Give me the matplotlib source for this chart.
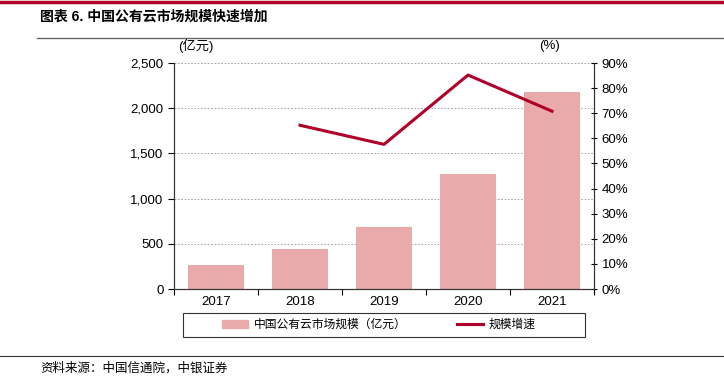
import numpy as np
import matplotlib.pyplot as plt
from matplotlib.lines import Line2D
from matplotlib.patches import Patch, Rectangle

plt.rcParams['font.family'] = ['Liberation Sans', 'Noto Sans CJK SC']

# 数据
years = ['2017', '2018', '2019', '2020', '2021']
market_size = [264.8, 437, 689, 1277, 2181]          # 亿元
growth_years = ['2018', '2019', '2020', '2021']
growth_rate = [65.2, 57.6, 85.2, 70.8]               # %

bar_color = '#E8AAAA'
line_color = '#B0002A'

fig = plt.figure(figsize=(7.24, 3.8), dpi=100)
ax = fig.add_axes([174 / 724, 1 - 289 / 380, 420 / 724, 226 / 380])
ax2 = ax.twinx()

x = np.arange(len(years))
ax.bar(x, market_size, width=0.67, color=bar_color, zorder=2)
ax.set_xlim(-0.5, len(years) - 0.5)
ax.set_ylim(0, 2500)
ax.set_yticks(np.arange(0, 2501, 500))
ax.set_yticklabels(['{:,}'.format(v) for v in range(0, 2501, 500)])
ax.yaxis.grid(True, linestyle=(0, (2, 2)), color='#999999', linewidth=0.6, zorder=0)
ax.set_axisbelow(True)

ax.set_xticks(x)
ax.set_xticklabels(years)
ax.tick_params(axis='x', length=0, labelsize=9.5, pad=5)
ax.set_xticks(np.arange(-0.5, len(years), 1), minor=True)
ax.tick_params(axis='x', which='minor', length=4, width=0.8)
ax.tick_params(axis='y', labelsize=9.5, length=4, width=0.8)

gx = [years.index(y) for y in growth_years]
ax2.plot(gx, growth_rate, color=line_color, linewidth=2.2, zorder=3)
ax2.set_ylim(0, 90)
ax2.set_yticks(np.arange(0, 91, 10))
ax2.set_yticklabels(['{}%'.format(v) for v in range(0, 91, 10)])
ax2.tick_params(axis='y', labelsize=9.5, length=4, width=0.8, direction='inout')

for a in (ax, ax2):
    a.spines['top'].set_visible(False)
    for s in ('left', 'right', 'bottom'):
        a.spines[s].set_linewidth(0.8)
        a.spines[s].set_color('#333333')

fig.text(178 / 724, 1 - 46 / 380, '(亿元)', fontsize=9.5, ha='left', va='center')
fig.text(550 / 724, 1 - 46 / 380, '(%)', fontsize=9.5, ha='center', va='center')

# 图例（外框单独画）
fig.add_artist(Rectangle((183 / 724, 1 - 337 / 380), 402 / 724, 24 / 380, fill=False,
                         edgecolor='#333333', linewidth=0.8))
handles = [Patch(color=bar_color), Line2D([0], [0], color=line_color, linewidth=2.2)]
labels = ['中国公有云市场规模（亿元）', '规模增速']
fig.legend(handles, labels, loc='center', bbox_to_anchor=(379 / 724, 1 - 325 / 380),
           ncol=2, frameon=False, fontsize=8.5, handlelength=2.2, handletextpad=0.5,
           columnspacing=4.2, borderpad=0, borderaxespad=0)

# 标题与来源
fig.add_artist(Line2D([0, 1], [1 - 1.5 / 380, 1 - 1.5 / 380], color='#B0002A', linewidth=2.5))
fig.text(40 / 724, 1 - 17 / 380, '图表 6. 中国公有云市场规模快速增加', fontsize=10,
         fontweight='bold', ha='left', va='center')
fig.add_artist(Line2D([37 / 724, 1], [1 - 38 / 380, 1 - 38 / 380], color='#666666', linewidth=1))
fig.add_artist(Line2D([0, 1], [1 - 356 / 380, 1 - 356 / 380], color='#333333', linewidth=0.8))
fig.text(40 / 724, 1 - 368 / 380, '资料来源：中国信通院，中银证券', fontsize=9,
         style='italic', ha='left', va='center')

fig.savefig('out.png', dpi=100)
